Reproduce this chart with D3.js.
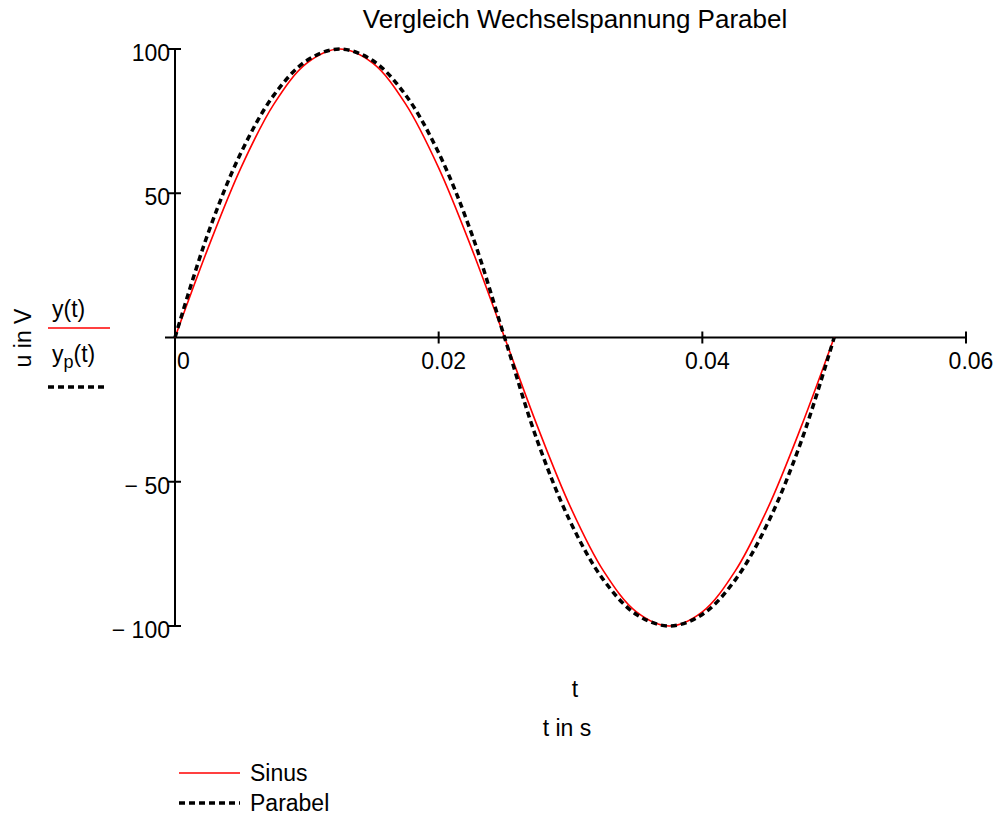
<!DOCTYPE html>
<html lang="en">
<head>
  <meta charset="UTF-8">
  <title>Vergleich Wechselspannung Parabel</title>
  <script src="https://d3js.org/d3.v7.min.js"></script>
  <style>
    body { margin: 0; background: #fff; }
    text { font-family: "Liberation Sans", Arial, sans-serif; fill: #000; font-size: 23px; }
  </style>
</head>
<body>
  <div id="chart"></div>
  <script>
    // time samples in s
    const tValues = [0, 0.0025, 0.005, 0.0075, 0.01, 0.0125, 0.015, 0.0175, 0.02, 0.0225, 0.025,
                     0.0275, 0.03, 0.0325, 0.035, 0.0375, 0.04, 0.0425, 0.045, 0.0475, 0.05];
    // y(t) - Sinus
    const sinusValues = [0, 30.9, 58.8, 80.9, 95.1, 100, 95.1, 80.9, 58.8, 30.9, 0,
                         -30.9, -58.8, -80.9, -95.1, -100, -95.1, -80.9, -58.8, -30.9, 0];
    // yp(t) - Parabel
    const parabelValues = [0, 36, 64, 84, 96, 100, 96, 84, 64, 36, 0,
                           -36, -64, -84, -96, -100, -96, -84, -64, -36, 0];
    const xTicks = [0, 0.02, 0.04, 0.06];
    const xTickLabels = ["0", "0.02", "0.04", "0.06"];
    const yTicks = [100, 50, -50, -100];
    const yTickLabels = ["100", "50", "\u2212 50", "\u2212 100"];

    const width = 999, height = 816;
    const svg = d3.select("#chart").append("svg")
      .attr("width", width)
      .attr("height", height);

    const x = d3.scaleLinear().domain([0, 0.06]).range([175, 966]);
    const y = d3.scaleLinear().domain([-100, 100]).range([626, 49]);

    // title
    svg.append("text")
      .attr("x", 575).attr("y", 28)
      .attr("text-anchor", "middle")
      .style("font-size", "26px")
      .text("Vergleich Wechselspannung Parabel");

    // x axis line (through u = 0)
    svg.append("line")
      .attr("x1", 165).attr("x2", x(0.06))
      .attr("y1", y(0)).attr("y2", y(0))
      .attr("stroke", "#000").attr("stroke-width", 2);
    // y axis line
    svg.append("line")
      .attr("x1", x(0)).attr("x2", x(0))
      .attr("y1", y(100)).attr("y2", y(-100))
      .attr("stroke", "#000").attr("stroke-width", 2);

    // x ticks
    svg.selectAll(".xtick")
      .data(xTicks.slice(1))
      .join("line")
      .attr("x1", d => x(d)).attr("x2", d => x(d))
      .attr("y1", y(0) - 6).attr("y2", y(0) + 6)
      .attr("stroke", "#000").attr("stroke-width", 2);
    svg.selectAll(".xlabel")
      .data(xTicks)
      .join("text")
      .attr("x", (d, i) => i === 0 ? x(d) + 2 : x(d) + 5)
      .attr("y", 369)
      .attr("text-anchor", (d, i) => i === 0 ? "start" : "middle")
      .text((d, i) => xTickLabels[i]);

    // y ticks
    svg.selectAll(".ytick")
      .data(yTicks)
      .join("line")
      .attr("x1", x(0) - 7).attr("x2", x(0) + 6)
      .attr("y1", d => y(d)).attr("y2", d => y(d))
      .attr("stroke", "#000").attr("stroke-width", 2);
    svg.selectAll(".ylabel")
      .data(yTicks)
      .join("text")
      .attr("x", x(0) - 5)
      .attr("y", d => y(d) + 12)
      .attr("text-anchor", "end")
      .text((d, i) => yTickLabels[i]);

    // curves
    const line = d3.line()
      .x(d => x(d[0]))
      .y(d => y(d[1]))
      .curve(d3.curveCatmullRom.alpha(0.5));

    svg.append("path")
      .attr("d", line(tValues.map((t, i) => [t, sinusValues[i]])))
      .attr("fill", "none")
      .attr("stroke", "#ff0000")
      .attr("stroke-width", 1.6);

    svg.append("path")
      .attr("d", line(tValues.map((t, i) => [t, parabelValues[i]])))
      .attr("fill", "none")
      .attr("stroke", "#000")
      .attr("stroke-width", 3.5)
      .attr("stroke-dasharray", "6,4");

    // y axis labels (Mathcad style)
    svg.append("text")
      .attr("transform", "translate(31,338) rotate(-90)")
      .attr("text-anchor", "middle")
      .text("u in V");
    svg.append("text")
      .attr("x", 52).attr("y", 317)
      .text("y(t)");
    svg.append("line")
      .attr("x1", 48).attr("x2", 110)
      .attr("y1", 328).attr("y2", 328)
      .attr("stroke", "#ff0000").attr("stroke-width", 1.6);
    const yp = svg.append("text")
      .attr("x", 52).attr("y", 362);
    yp.append("tspan").text("y");
    yp.append("tspan").attr("dy", 6).style("font-size", "18px").text("p");
    yp.append("tspan").attr("dy", -6).text("(t)");
    svg.append("line")
      .attr("x1", 48).attr("x2", 106)
      .attr("y1", 387).attr("y2", 387)
      .attr("stroke", "#000").attr("stroke-width", 3.5)
      .attr("stroke-dasharray", "6,4");

    // x axis labels
    svg.append("text")
      .attr("x", 575).attr("y", 697)
      .attr("text-anchor", "middle")
      .text("t");
    svg.append("text")
      .attr("x", 567).attr("y", 736)
      .attr("text-anchor", "middle")
      .text("t in s");

    // legend
    const legendItems = [
      { name: "Sinus", color: "#ff0000", width: 1.6, dash: null },
      { name: "Parabel", color: "#000", width: 3.5, dash: "6,4" }
    ];
    const legend = svg.selectAll(".legend")
      .data(legendItems)
      .join("g")
      .attr("transform", (d, i) => `translate(0,${773 + i * 30})`);
    legend.append("line")
      .attr("x1", 179).attr("x2", 240)
      .attr("stroke", d => d.color)
      .attr("stroke-width", d => d.width)
      .attr("stroke-dasharray", d => d.dash);
    legend.append("text")
      .attr("x", 250).attr("y", 8)
      .text(d => d.name);
  </script>
</body>
</html>
